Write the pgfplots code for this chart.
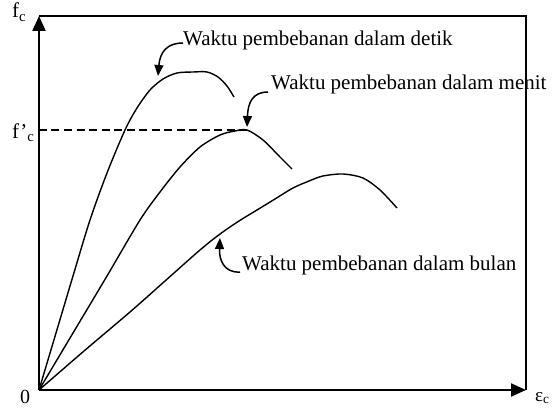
\documentclass[border=0pt]{standalone}
\usepackage{fontspec}
\setmainfont{Liberation Serif}
\usepackage{pgfplots}
\pgfplotsset{compat=1.18}
\usetikzlibrary{arrows.meta}
\begin{document}
\begin{tikzpicture}
\begin{axis}[
  scale only axis, width=487pt, height=374pt,
  xmin=0, xmax=487, ymin=0, ymax=374,
  axis lines=left, xtick=\empty, ytick=\empty,
  axis line style={line width=2.2pt,-{Triangle[length=15pt,width=13pt]}},
  clip=false,
  every axis plot/.append style={line width=1.4pt, black, no markers},
]
% frame top and right
\addplot[line width=1.5pt] coordinates {(0,374) (487,374) (487,0)};
% f'c level
\addplot[line width=1.4pt, dash pattern=on 8pt off 4.5pt] coordinates {(0,260) (208,260)};
% detik
\addplot[smooth] coordinates {(0,0) (17,57) (34,114) (51,170) (68,217) (86,260) (98,282) (111,300) (124,311) (138,317) (154,318) (168,318) (179,313) (188,304) (195,293)};
% menit
\addplot[smooth] coordinates {(0,0) (34,57) (68,114) (101,170) (121,198) (141,223) (161,243) (181,255) (196,259) (208,260) (224,250) (241,233) (253,221)};
% bulan
\addplot[smooth] coordinates {(0,0) (45,39) (91,78) (126,109) (161,140) (181,156) (200,169) (218,180) (236,191) (254,202) (270,209) (284,214) (304,216) (324,212) (341,200) (358,182)};
% annotations
\draw[line width=1.5pt, -{Triangle[length=11pt,width=9pt]}] (axis cs:144,347) .. controls (axis cs:128,347) and (axis cs:121,338) .. (axis cs:119,314);
\draw[line width=1.5pt, -{Triangle[length=11pt,width=9pt]}] (axis cs:229,298) .. controls (axis cs:214,298) and (axis cs:209,288) .. (axis cs:208,263);
\draw[line width=1.5pt, -{Triangle[length=11pt,width=9pt]}] (axis cs:201,118) .. controls (axis cs:185,117) and (axis cs:180,130) .. (axis cs:181,152);
\node[anchor=base west, inner sep=0pt, font=\fontsize{21}{25}\selectfont] at (axis cs:144,344) {Waktu pembebanan dalam detik};
\node[anchor=base west, inner sep=0pt, font=\fontsize{21}{25}\selectfont] at (axis cs:232,301) {Waktu pembebanan dalam menit};
\node[anchor=base west, inner sep=0pt, font=\fontsize{21}{25}\selectfont] at (axis cs:203,120) {Waktu pembebanan dalam bulan};
\node[anchor=base west, inner sep=0pt, font=\fontsize{21}{25}\selectfont] at (axis cs:-27,372) {f\textsubscript{c}};
\node[anchor=base west, inner sep=0pt, font=\fontsize{21}{25}\selectfont] at (axis cs:-27,252) {f’\textsubscript{c}};
\node[anchor=base west, inner sep=0pt, font=\fontsize{20}{24}\selectfont] at (axis cs:-19,-13) {0};
\node[anchor=base west, inner sep=0pt, font=\fontsize{19}{23}\selectfont] at (axis cs:496,-11) {ε\textsubscript{c}};
\coordinate (bbA) at (axis cs:-39,-18);
\coordinate (bbB) at (axis cs:515,390);
\end{axis}
\pgfresetboundingbox
\path[use as bounding box] (bbA) rectangle (bbB);
\end{tikzpicture}
\end{document}
